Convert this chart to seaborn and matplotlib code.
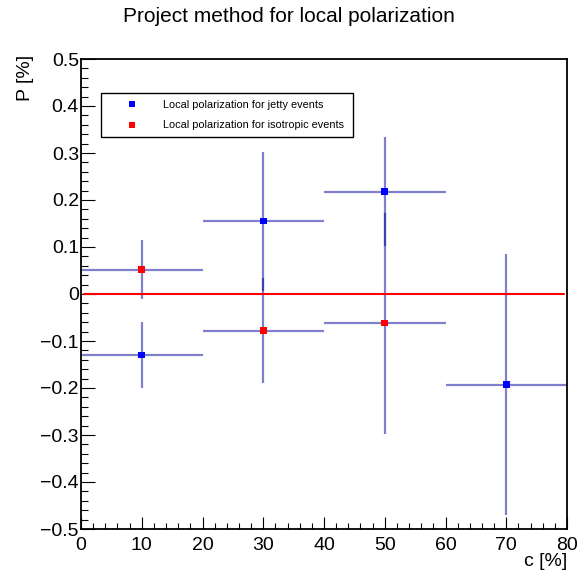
import numpy as np
import pandas as pd
import matplotlib
matplotlib.use("Agg")
import matplotlib.pyplot as plt
import seaborn as sns
from matplotlib.ticker import MultipleLocator, FuncFormatter
from matplotlib.lines import Line2D

# ---------------- data ----------------
jetty_c = [10, 30, 50, 70]
jetty_p = [-0.130, 0.155, 0.218, -0.193]
jetty_c_err = [10, 10, 10, 10]
jetty_p_err = [0.070, 0.148, 0.115, 0.278]

iso_c = [10, 30, 50]
iso_p = [0.052, -0.078, -0.062]
iso_c_err = [10, 10, 10]
iso_p_err = [0.063, 0.112, 0.235]

fit_range = [0.5, 79.5]
fit_value = [0.0, 0.0]

title = "Project method for local polarization"
xlabel = "c [%]"
ylabel = "P [%]"
label_jetty = "Local polarization for jetty events"
label_iso = "Local polarization for isotropic events"

# ---------------- style ----------------
sns.set_theme(style="white")
plt.rcParams["font.family"] = ["Liberation Sans", "DejaVu Sans"]
plt.rcParams["axes.unicode_minus"] = True
plt.rcParams["text.color"] = "black"
plt.rcParams["xtick.color"] = "black"
plt.rcParams["ytick.color"] = "black"
plt.rcParams["axes.labelcolor"] = "black"

W, H = 577, 579
fig = plt.figure(figsize=(W / 100, H / 100), dpi=100)
ax = fig.add_axes([81 / W, 1 - 529 / H, (567 - 81) / W, (529 - 59) / H])

err_kw = dict(fmt="none", ecolor="#000099", alpha=0.5, elinewidth=1.6, capsize=0, zorder=2)
ax.errorbar(jetty_c, jetty_p, xerr=jetty_c_err, yerr=jetty_p_err, **err_kw)
ax.errorbar(iso_c, iso_p, xerr=iso_c_err, yerr=iso_p_err, **err_kw)

line_df = pd.DataFrame({"c": fit_range, "P": fit_value})
sns.lineplot(data=line_df, x="c", y="P", color="#ff0000", linewidth=1.5, ax=ax, zorder=3)

df = pd.DataFrame({
    "c": jetty_c + iso_c,
    "P": jetty_p + iso_p,
    "set": [label_jetty] * len(jetty_c) + [label_iso] * len(iso_c),
})
sns.scatterplot(data=df, x="c", y="P", hue="set",
                palette={label_jetty: "#0000ff", label_iso: "#ff0000"},
                marker="s", s=22, linewidth=0, ax=ax, zorder=4, legend=False)

ax.set_xlim(0, 80)
ax.set_ylim(-0.5, 0.5)

# legend
handles = [Line2D([], [], marker="s", color="none", markerfacecolor="#0000ff",
                  markeredgewidth=0, markersize=4.5, linestyle="none"),
           Line2D([], [], marker="s", color="none", markerfacecolor="#ff0000",
                  markeredgewidth=0, markersize=4.5, linestyle="none")]
leg = ax.legend(handles, [label_jetty, label_iso], loc="lower left",
                bbox_to_anchor=(20 / 486, (529 - 137) / 470, 252 / 486, 44 / 470),
                mode="expand", fontsize=7.8, frameon=True, fancybox=False,
                borderpad=0.6, handlelength=4.6, handletextpad=0.5,
                labelspacing=1.0, borderaxespad=0)
leg.get_frame().set_edgecolor("black")
leg.get_frame().set_linewidth(1.0)
leg.get_frame().set_alpha(1)
for t in leg.get_texts():
    t.set_color("black")

# ticks
ax.xaxis.set_major_locator(MultipleLocator(10))
ax.xaxis.set_minor_locator(MultipleLocator(2))
ax.yaxis.set_major_locator(MultipleLocator(0.1))
ax.yaxis.set_minor_locator(MultipleLocator(0.02))

def yfmt(v, pos):
    if abs(v) < 1e-9:
        return "0"
    return f"{v:.1f}".replace("-", "\u2212")

ax.yaxis.set_major_formatter(FuncFormatter(yfmt))
ax.xaxis.set_major_formatter(FuncFormatter(lambda v, p: f"{v:.0f}"))

ax.tick_params(axis="both", which="both", direction="in", bottom=True, left=True,
               top=False, right=False, colors="black", labelcolor="black",
               labelsize=14, width=0.8)
ax.tick_params(axis="y", which="major", length=10, pad=1.5)
ax.tick_params(axis="y", which="minor", length=5)
ax.tick_params(axis="x", which="major", length=8.5, pad=6)
ax.tick_params(axis="x", which="minor", length=4.3)

for s in ax.spines.values():
    s.set_color("black")
    s.set_linewidth(1.3)

ax.set_xlabel("")
ax.set_ylabel("")
fig.text(567 / W, 1 - 562 / H, xlabel, ha="right", va="center", fontsize=14, color="black")
fig.text(25 / W, 1 - 55 / H, ylabel, ha="center", va="top", rotation=90, fontsize=14, color="black")
fig.text(0.5, 1 - 17 / H, title, ha="center", va="center", fontsize=15, color="black")

fig.savefig("out.png", dpi=100)
